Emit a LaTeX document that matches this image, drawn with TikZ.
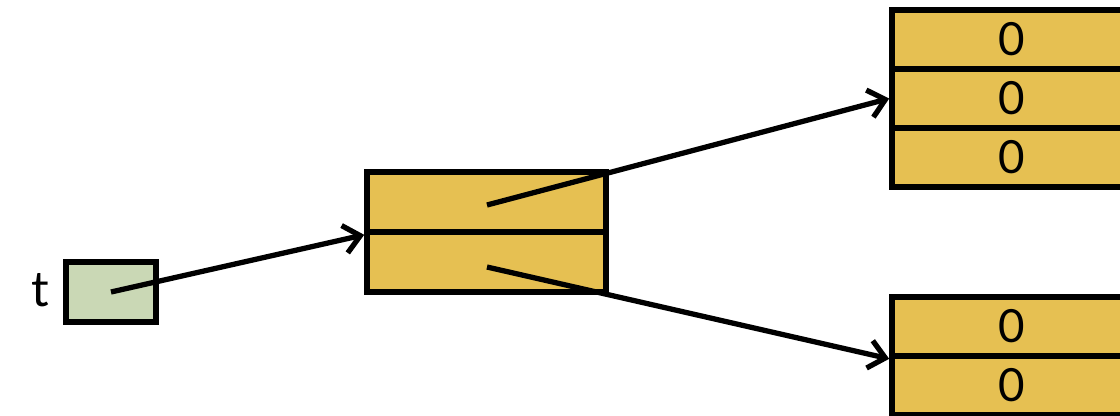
\documentclass[tikz,border=0pt]{standalone}
\usepackage{fontspec}
\setmainfont{Lato}
\usetikzlibrary{arrows.meta}

\definecolor{cellgold}{HTML}{E6C052}
\definecolor{ptrgreen}{HTML}{CAD8B5}

\tikzset{
    cell/.style={draw, line width=1.6pt, fill=cellgold, minimum width=2.40cm, minimum height=0.59cm, inner sep=0pt, font=\fontsize{13}{15}\selectfont},
    ptrbox/.style={draw, line width=1.6pt, fill=ptrgreen, minimum width=0.90cm, minimum height=0.60cm, inner sep=0pt},
    link/.style={line width=1.5pt, -{Straight Barb[length=1.6mm,width=2.8mm]}}
}

\begin{document}
\begin{tikzpicture}
    \useasboundingbox (0,0) rectangle (11.2,-4.15);
    % pointer variable
    \node[font=\fontsize{14}{16}\selectfont] (tname) at (0.40,-2.90) {t};
    \node[ptrbox] (t) at (1.11,-2.92) {};
    % array of two references
    \node[cell, minimum width=2.39cm, minimum height=0.60cm] (m1) at (4.865,-2.02) {};
    \node[cell, minimum width=2.39cm, minimum height=0.60cm] (m2) at (4.865,-2.62) {};
    % the two rows
    \node[cell] (a1) at (10.12,-0.395) {0};
    \node[cell] (a2) at (10.12,-0.985) {0};
    \node[cell] (a3) at (10.12,-1.575) {0};
    \node[cell] (b1) at (10.12,-3.265) {0};
    \node[cell] (b2) at (10.12,-3.855) {0};
    \coordinate (s1) at (4.87,-2.05);
    \coordinate (s2) at (4.87,-2.67);
    \draw[link] (t.center) -- (m1.south west);
    \draw[link] (s1) -- (a2.west);
    \draw[link] (s2) -- (b1.south west);
\end{tikzpicture}
\end{document}
